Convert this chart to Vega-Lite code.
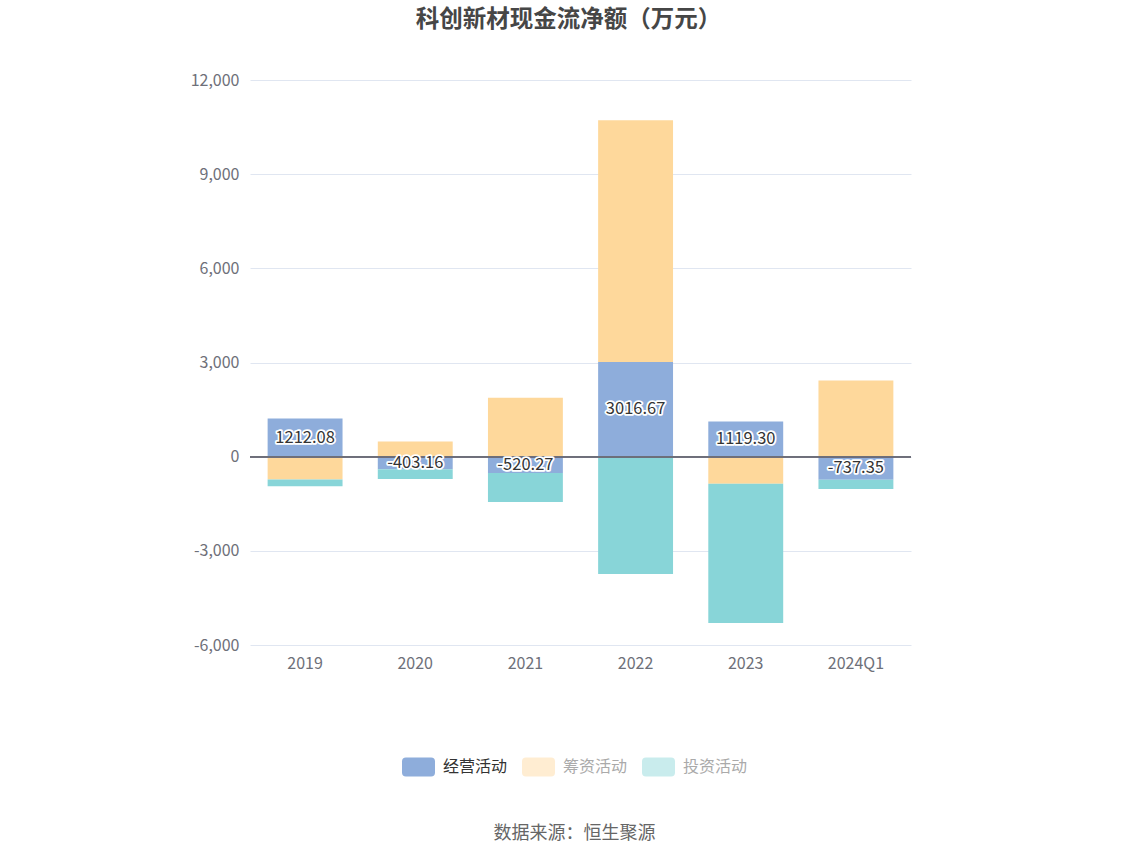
{
  "$schema": "https://vega.github.io/schema/vega-lite/v6.json",
  "width": 661,
  "height": 565,
  "autosize": {"type": "none"},
  "padding": {"left": 250, "top": 80, "right": 237, "bottom": 214},
  "background": "white",
  "title": {
    "text": "科创新材现金流净额（万元）",
    "anchor": "middle",
    "frame": "group",
    "dx": -12,
    "offset": 41,
    "fontSize": 23.5,
    "fontWeight": "bold",
    "color": "#464646",
    "font": "Noto Sans CJK SC"
  },
  "data": {
    "values": [
      {"year": "2019", "type": "经营活动", "value": 1212.08},
      {"year": "2019", "type": "筹资活动", "value": -730},
      {"year": "2019", "type": "投资活动", "value": -215},
      {"year": "2020", "type": "经营活动", "value": -403.16},
      {"year": "2020", "type": "筹资活动", "value": 480},
      {"year": "2020", "type": "投资活动", "value": -310},
      {"year": "2021", "type": "经营活动", "value": -520.27},
      {"year": "2021", "type": "筹资活动", "value": 1880},
      {"year": "2021", "type": "投资活动", "value": -925},
      {"year": "2022", "type": "经营活动", "value": 3016.67},
      {"year": "2022", "type": "筹资活动", "value": 7700},
      {"year": "2022", "type": "投资活动", "value": -3735},
      {"year": "2023", "type": "经营活动", "value": 1119.30},
      {"year": "2023", "type": "筹资活动", "value": -860},
      {"year": "2023", "type": "投资活动", "value": -4440},
      {"year": "2024Q1", "type": "经营活动", "value": -737.35},
      {"year": "2024Q1", "type": "筹资活动", "value": 2430},
      {"year": "2024Q1", "type": "投资活动", "value": -290}
    ]
  },
  "layer": [
    {
      "mark": {"type": "bar"},
      "encoding": {
        "x": {
          "field": "year", "type": "nominal", "sort": null,
          "scale": {"paddingInner": 0.32, "paddingOuter": 0.16},
          "axis": {
            "labelAngle": 0, "grid": false, "labelPadding": 10,
            "title": "数据来源：恒生聚源",
            "titleFontSize": 18, "titleColor": "#666666", "titleFontWeight": "normal",
            "titlePadding": 153, "titleX": 324
          }
        },
        "y": {
          "field": "value", "type": "quantitative",
          "scale": {"domain": [-6000, 12000], "nice": false},
          "axis": {"values": [-6000, -3000, 0, 3000, 6000, 9000, 12000], "format": ",.0f", "title": null, "labelPadding": 11}
        },
        "color": {
          "field": "type", "type": "nominal",
          "scale": {"domain": ["经营活动", "筹资活动", "投资活动"], "range": ["#8eaddb", "#fed89b", "#88d5d8"]},
          "legend": {
            "orient": "none", "legendX": 152, "legendY": 670, "direction": "horizontal", "columns": 3,
            "title": null, "padding": 0,
            "symbolType": "M-0.76,-0.576 L0.76,-0.576 Q1,-0.576 1,-0.336 L1,0.336 Q1,0.576 0.76,0.576 L-0.76,0.576 Q-1,0.576 -1,0.336 L-1,-0.336 Q-1,-0.576 -0.76,-0.576 Z",
            "symbolSize": 1089, "symbolStrokeWidth": 0,
            "labelFontSize": 16, "labelOffset": 8, "columnPadding": 14, "labelColor": "#333333",
            "labelFont": "Noto Sans CJK SC",
            "encode": {
              "symbols": {"update": {"opacity": {"signal": "datum.value === '经营活动' ? 1 : 0.45"}}},
              "labels": {"update": {"fill": {"signal": "datum.value === '经营活动' ? '#333333' : '#aaaaaa'"}}}
            }
          }
        },
        "order": {"field": "type", "sort": "descending"}
      }
    },
    {
      "mark": {"type": "rule", "color": "#6e7079", "strokeWidth": 1},
      "encoding": {
        "y": {"datum": 0, "type": "quantitative", "scale": {"domain": [-6000, 12000], "nice": false}, "axis": null}
      }
    },
    {
      "transform": [{"filter": "datum.type === '经营活动'"}],
      "mark": {"type": "text", "fill": "white", "stroke": "white", "strokeWidth": 3.5, "strokeJoin": "round", "fontSize": 16.5, "font": "Noto Sans CJK SC", "baseline": "middle", "align": "center"},
      "encoding": {
        "x": {"field": "year", "type": "nominal", "sort": null, "scale": {"paddingInner": 0.32, "paddingOuter": 0.16}},
        "y": {"field": "value", "type": "quantitative", "stack": null, "scale": {"domain": [-12000, 24000], "nice": false}, "axis": null},
        "text": {"field": "value", "type": "quantitative", "format": ".2f"}
      }
    },
    {
      "transform": [{"filter": "datum.type === '经营活动'"}],
      "mark": {"type": "text", "fill": "#333333", "fontSize": 16.5, "font": "Noto Sans CJK SC", "baseline": "middle", "align": "center"},
      "encoding": {
        "x": {"field": "year", "type": "nominal", "sort": null, "scale": {"paddingInner": 0.32, "paddingOuter": 0.16}},
        "y": {"field": "value", "type": "quantitative", "stack": null, "scale": {"domain": [-12000, 24000], "nice": false}, "axis": null},
        "text": {"field": "value", "type": "quantitative", "format": ".2f"}
      }
    }
  ],
  "resolve": {"scale": {"y": "independent"}},
  "config": {
    "locale": {"number": {"decimal": ".", "thousands": ",", "grouping": [3], "currency": ["", ""], "minus": "-"}},
    "font": "Noto Sans CJK SC",
    "view": {"stroke": null},
    "axis": {
      "labelFont": "Noto Sans CJK SC",
      "labelFontSize": 16,
      "labelColor": "#6e7079",
      "titleFont": "Noto Sans CJK SC",
      "domain": false,
      "ticks": false,
      "gridColor": "#e0e6f1",
      "gridWidth": 1
    }
  }
}
